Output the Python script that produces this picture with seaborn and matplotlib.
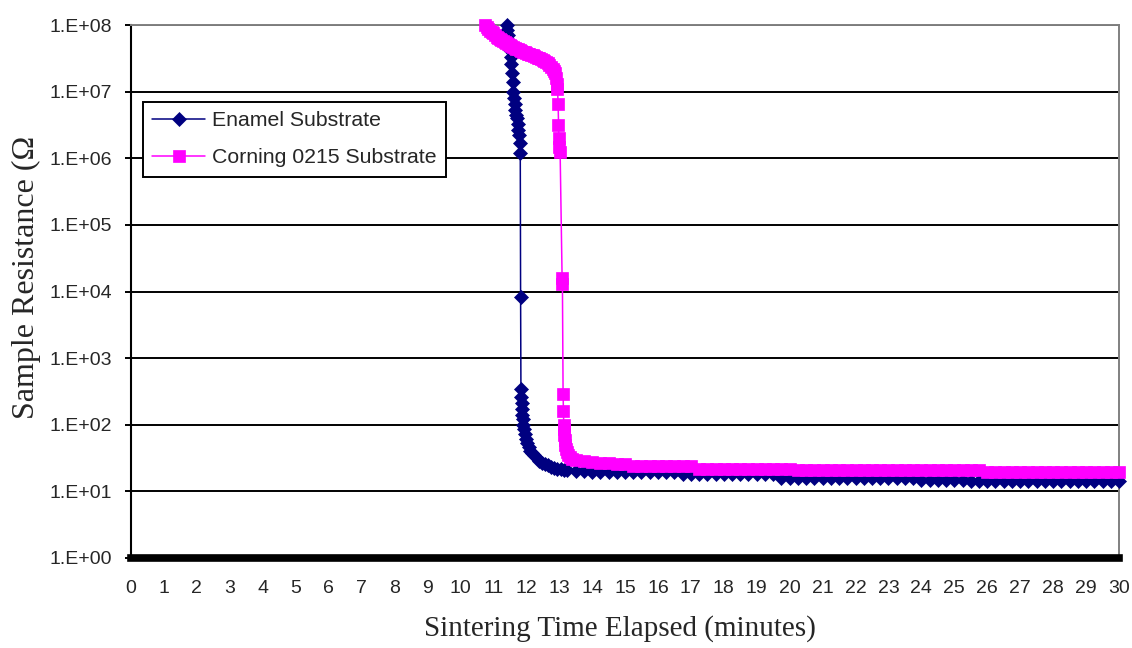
import matplotlib
matplotlib.use("Agg")
import matplotlib.pyplot as plt
import seaborn as sns
import pandas as pd
from matplotlib.ticker import FixedLocator, FixedFormatter, NullLocator

# ---------------- data ----------------
enamel_time = [
    11.41, 11.43, 11.45, 11.47, 11.49, 11.51, 11.53, 11.55, 11.57, 11.59,
    11.61, 11.63, 11.65, 11.67, 11.70, 11.72, 11.74, 11.76, 11.78, 11.80,
    11.82, 11.83, 11.84, 11.85, 11.86, 11.87, 11.88, 11.89, 11.90, 11.92,
    11.95, 11.98, 12.02, 12.07, 12.12, 12.18, 12.25, 12.32, 12.40, 12.48,
    12.56, 12.65, 12.75, 12.85, 12.95, 13.05, 13.15,
    13.25, 13.5, 13.75, 14.0, 14.25, 14.5, 14.75, 15.0, 15.25, 15.5,
    15.75, 16.0, 16.25, 16.5, 16.75, 17.0, 17.25, 17.5, 17.75, 18.0,
    18.25, 18.5, 18.75, 19.0, 19.25, 19.5, 19.75, 20.0, 20.25, 20.5,
    20.75, 21.0, 21.25, 21.5, 21.75, 22.0, 22.25, 22.5, 22.75, 23.0,
    23.25, 23.5, 23.75, 24.0, 24.25, 24.5, 24.75, 25.0, 25.25, 25.5,
    25.75, 26.0, 26.25, 26.5, 26.75, 27.0, 27.25, 27.5, 27.75, 28.0,
    28.25, 28.5, 28.75, 29.0, 29.25, 29.5, 29.75, 30.0,
]
enamel_ohm = [
    1.0e8, 8.5e7, 7.0e7, 5.8e7, 5.0e7, 4.2e7, 3.3e7, 2.6e7, 1.9e7, 1.4e7,
    1.0e7, 8.0e6, 6.5e6, 5.3e6, 4.5e6, 4.0e6, 3.3e6, 2.7e6, 2.2e6, 1.7e6,
    1.2e6, 8.4e3, 3.4e2, 2.6e2, 2.1e2, 1.7e2, 1.4e2, 1.2e2, 1.0e2, 85,
    72, 62, 53, 46, 41, 38, 35, 32, 29, 27,
    25.5, 24.5, 23.5, 22.5, 22.0, 21.5, 21.0,
    20.8, 20.4, 20.0, 19.6, 19.3, 19.3, 19.3, 19.3, 19.3, 19.3,
    19.3, 19.3, 19.3, 19.3, 18.0, 18.0, 18.0, 18.0, 18.0, 18.0,
    18.0, 18.0, 18.0, 18.0, 18.0, 18.0, 16.1, 16.1, 16.1, 16.1,
    16.1, 16.1, 16.1, 16.1, 16.1, 16.1, 16.1, 16.1, 16.1, 16.1,
    16.1, 16.1, 16.1, 15.0, 15.0, 15.0, 15.0, 15.0, 15.0, 14.3,
    14.3, 14.3, 14.3, 14.3, 14.3, 14.3, 14.3, 14.3, 14.3, 14.3,
    14.3, 14.3, 14.3, 14.3, 14.3, 14.3, 14.3, 14.3,
]

corning_time = [
    10.75, 10.80, 10.85, 10.90, 10.95, 11.00, 11.05, 11.10, 11.15, 11.20,
    11.25, 11.30, 11.35, 11.40, 11.45, 11.50, 11.55, 11.60, 11.65, 11.70,
    11.75, 11.80, 11.85, 11.90, 11.95, 12.00, 12.05, 12.10, 12.15, 12.20,
    12.25, 12.30, 12.35, 12.40, 12.45, 12.50, 12.55, 12.60, 12.65, 12.70,
    12.75, 12.80, 12.85,
    12.88, 12.91, 12.93, 12.95, 12.97, 12.98, 12.99, 13.01, 13.03, 13.09,
    13.10, 13.12, 13.13, 13.14, 13.15, 13.16, 13.17, 13.18, 13.20, 13.23,
    13.27, 13.32, 13.40, 13.50,
    13.75, 14.0, 14.25, 14.5, 14.75, 15.0, 15.25, 15.5, 15.75, 16.0,
    16.25, 16.5, 16.75, 17.0, 17.25, 17.5, 17.75, 18.0, 18.25, 18.5,
    18.75, 19.0, 19.25, 19.5, 19.75, 20.0, 20.25, 20.5, 20.75, 21.0,
    21.25, 21.5, 21.75, 22.0, 22.25, 22.5, 22.75, 23.0, 23.25, 23.5,
    23.75, 24.0, 24.25, 24.5, 24.75, 25.0, 25.25, 25.5, 25.75, 26.0,
    26.25, 26.5, 26.75, 27.0, 27.25, 27.5, 27.75, 28.0, 28.25, 28.5,
    28.75, 29.0, 29.25, 29.5, 29.75, 30.0,
]
corning_ohm = [
    1.0e8, 9.3e7, 8.6e7, 8.1e7, 7.8e7, 7.5e7, 7.1e7, 6.7e7, 6.4e7, 6.1e7,
    5.9e7, 5.7e7, 5.5e7, 5.3e7, 5.1e7, 4.95e7, 4.8e7, 4.65e7, 4.5e7, 4.4e7,
    4.3e7, 4.2e7, 4.1e7, 4.0e7, 3.9e7, 3.8e7, 3.7e7, 3.65e7, 3.55e7, 3.5e7,
    3.4e7, 3.3e7, 3.2e7, 3.15e7, 3.05e7, 2.95e7, 2.85e7, 2.75e7, 2.65e7, 2.5e7,
    2.35e7, 2.2e7, 2.05e7,
    1.9e7, 1.6e7, 1.3e7, 1.1e7, 6.5e6, 3.2e6, 2.0e6, 1.5e6, 1.25e6, 1.6e4,
    1.3e4, 2.9e2, 1.6e2, 1.0e2, 85, 70, 60, 50, 43, 39,
    35, 33, 31, 30,
    28.5, 27.5, 26.8, 26.3, 26.0, 25.8, 24.0, 24.0, 24.0, 24.0,
    24.0, 24.0, 24.0, 24.0, 22.0, 22.0, 22.0, 22.0, 22.0, 22.0,
    22.0, 22.0, 22.0, 22.0, 22.0, 22.0, 20.8, 20.8, 20.8, 20.8,
    20.8, 20.8, 20.8, 20.8, 20.8, 20.8, 20.8, 20.8, 20.8, 20.8,
    20.8, 20.8, 20.8, 20.8, 20.8, 20.8, 20.8, 20.8, 20.8, 19.3,
    19.3, 19.3, 19.3, 19.3, 19.3, 19.3, 19.3, 19.3, 19.3, 19.3,
    19.3, 19.3, 19.3, 19.3, 19.3, 19.3,
]

series_names = ["Enamel Substrate", "Corning 0215 Substrate"]
x_ticks = list(range(0, 31))
x_tick_labels = [str(v) for v in x_ticks]
y_ticks = [1e0, 1e1, 1e2, 1e3, 1e4, 1e5, 1e6, 1e7, 1e8]
y_tick_labels = ["1.E+00", "1.E+01", "1.E+02", "1.E+03", "1.E+04",
                 "1.E+05", "1.E+06", "1.E+07", "1.E+08"]
x_label = "Sintering Time Elapsed (minutes)"
y_label = "Sample Resistance (\u03a9"

# ---------------- styling ----------------
sns.set_style("white")
plt.rcParams['font.family'] = ['Liberation Sans', 'DejaVu Sans']

W, H = 1132, 648
fig = plt.figure(figsize=(W / 100, H / 100), dpi=100)
L, R, T, B = 131, 1119, 25, 558
ax = fig.add_axes([L / W, 1 - B / H, (R - L) / W, (B - T) / H])

df_e = pd.DataFrame({"t": enamel_time, "r": enamel_ohm})
df_c = pd.DataFrame({"t": corning_time, "r": corning_ohm})

navy = "#000080"
magenta = "#FF00FF"

sns.lineplot(data=df_e, x="t", y="r", ax=ax, color=navy, marker="D",
             markersize=7, markeredgecolor=navy, markeredgewidth=0.5,
             linewidth=1.1, label=series_names[0], sort=False,
             estimator=None, clip_on=False, zorder=3)
sns.lineplot(data=df_c, x="t", y="r", ax=ax, color=magenta, marker="s",
             markersize=8, markeredgecolor=magenta, markeredgewidth=0.5,
             linewidth=1.1, label=series_names[1], sort=False,
             estimator=None, clip_on=False, zorder=4)

ax.set_yscale("log")
ax.set_xlim(0, 30)
ax.set_ylim(1, 1e8)
ax.yaxis.set_major_locator(FixedLocator(y_ticks))
ax.yaxis.set_major_formatter(FixedFormatter(y_tick_labels))
ax.yaxis.set_minor_locator(NullLocator())
ax.xaxis.set_major_locator(FixedLocator(x_ticks))
ax.xaxis.set_major_formatter(FixedFormatter(x_tick_labels))
ax.xaxis.set_minor_locator(NullLocator())

ax.set_axisbelow(True)
ax.yaxis.grid(True, color="black", linewidth=1.4)
ax.xaxis.grid(False)

ax.spines["left"].set_color("black")
ax.spines["left"].set_linewidth(1.5)
ax.spines["bottom"].set_color("black")
ax.spines["bottom"].set_linewidth(5.5)
for side in ["top", "right"]:
    ax.spines[side].set_color("#808080")
    ax.spines[side].set_linewidth(1.4)

ax.tick_params(axis="y", direction="out", length=4.5, width=1.4,
               color="black", pad=9, labelsize=14, left=True)
ax.tick_params(axis="x", length=0, pad=15.5, labelsize=14, bottom=True)

ax.set_xlabel(x_label, fontfamily="Liberation Serif", fontsize=21)
ax.set_ylabel(y_label, fontfamily="Liberation Serif", fontsize=23)
ax.xaxis.set_label_coords(0.495, -0.107)
ax.yaxis.set_label_coords(-0.091, 0.526)

leg = ax.legend(loc="upper left", bbox_to_anchor=(0.012, 0.855),
                borderaxespad=0, frameon=True, fancybox=False,
                edgecolor="black", framealpha=1,
                prop={"family": "Liberation Sans", "size": 15.3},
                handlelength=2.5, handletextpad=0.34, borderpad=0.43,
                labelspacing=0.85, numpoints=1)
leg.get_frame().set_linewidth(1.4)

fig.savefig("out.png", dpi=100)
